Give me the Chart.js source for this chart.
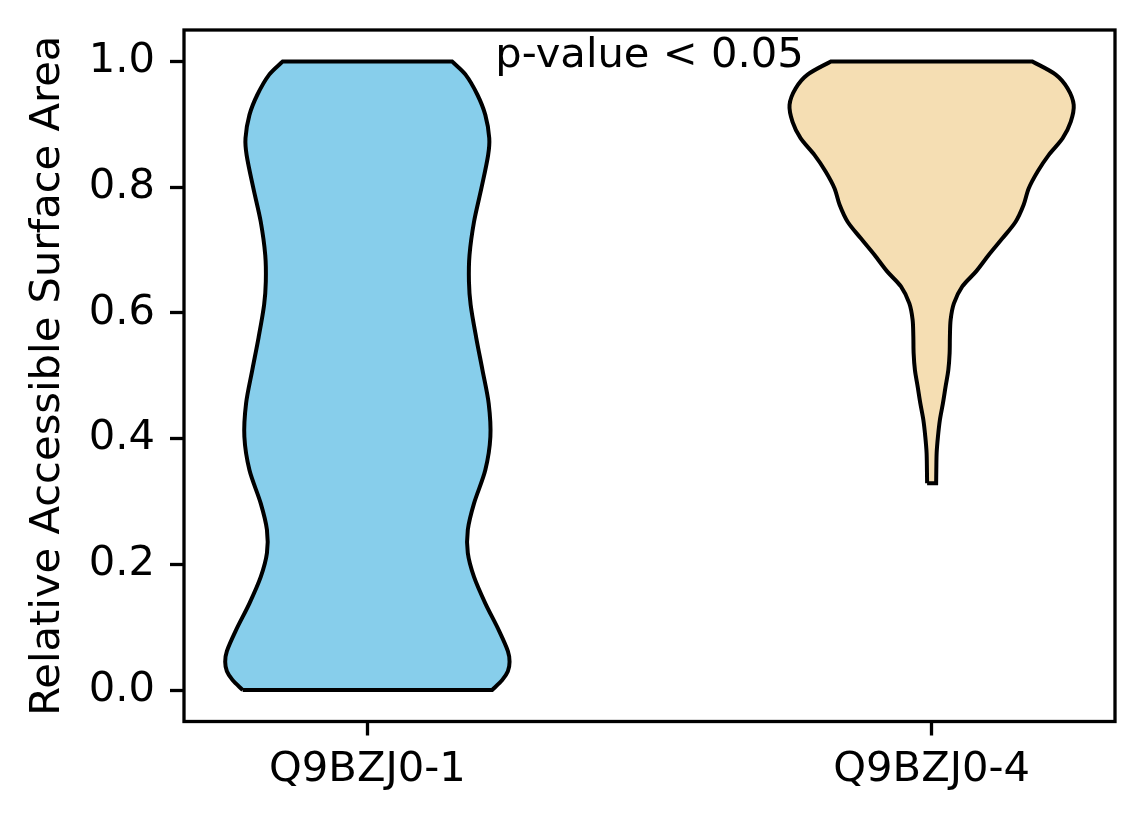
<!DOCTYPE html>
<html><head><meta charset="utf-8">
<script src="https://cdn.jsdelivr.net/npm/chart.js@4.4.1/dist/chart.umd.min.js"></script>
<style>html,body{margin:0;padding:0;background:#fff;} #wrap{width:1144px;height:824px;}</style>
</head><body><div id="wrap"><canvas id="c" width="1144" height="824"></canvas></div>
<script>
// ---- data ----
const categories = ['Q9BZJ0-1', 'Q9BZJ0-4'];
const positions = [1, 2];
const yTicks = [0.0, 0.2, 0.4, 0.6, 0.8, 1.0];
const medians = [0.4555, 0.880];
const colors = ['#87CEEB', '#F5DEB3'];

// violin 1 (Q9BZJ0-1): value levels and half-widths (x-axis units)
const violin1Levels = [0.000, 0.016, 0.030, 0.045, 0.062, 0.095, 0.138, 0.180, 0.218, 0.255, 0.297, 0.350, 0.403, 0.456, 0.509, 0.560, 0.613, 0.650, 0.692, 0.745, 0.798, 0.851, 0.878, 0.915, 0.947, 0.979, 1.000];
const violin1Half   = [0.221, 0.239, 0.249, 0.252, 0.249, 0.233, 0.209, 0.189, 0.178, 0.178, 0.189, 0.209, 0.218, 0.215, 0.204, 0.193, 0.183, 0.180, 0.181, 0.189, 0.202, 0.214, 0.216, 0.209, 0.195, 0.174, 0.150];

// violin 2 (Q9BZJ0-4)
const violin2Levels = [0.329, 0.350, 0.377, 0.403, 0.430, 0.456, 0.483, 0.509, 0.536, 0.562, 0.589, 0.615, 0.642, 0.666, 0.692, 0.719, 0.745, 0.772, 0.798, 0.825, 0.851, 0.878, 0.904, 0.931, 0.957, 0.979, 1.000];
const violin2Half   = [0.0080, 0.0083, 0.0089, 0.0112, 0.0147, 0.0200, 0.0248, 0.0296, 0.0319, 0.0324, 0.0337, 0.0395, 0.0544, 0.0789, 0.1011, 0.1259, 0.1489, 0.1631, 0.1720, 0.1879, 0.2074, 0.2323, 0.2465, 0.2518, 0.2411, 0.2199, 0.1785];

const medianHalfWidth = 0.125;
const annotText = 'p-value < 0.05';
const annotX = 1.5;
const annotY = 1.0;
const yTitle = 'Relative Accessible Surface Area';
const xMin = 0.675, xMax = 2.325, yMin = -0.05, yMax = 1.05;

// ---- build polygon outline (closed, with doubled corners for flat ends) ----
function violinPoints(c, levels, half) {
  const n = levels.length;
  const pts = [];
  pts.push({x: c - half[0], y: levels[0]});
  pts.push({x: c + half[0], y: levels[0]});
  for (let i = 0; i < n; i++) pts.push({x: c + half[i], y: levels[i]});
  pts.push({x: c + half[n-1], y: levels[n-1]});
  pts.push({x: c - half[n-1], y: levels[n-1]});
  for (let i = n - 1; i >= 0; i--) pts.push({x: c - half[i], y: levels[i]});
  return pts;
}

const FONT = 'DejaVu Sans';
const FS = 41.67;

const violinSets = [
  [violin1Levels, violin1Half],
  [violin2Levels, violin2Half]
].map((v, i) => ({
  data: violinPoints(positions[i], v[0], v[1]),
  showLine: true, fill: 'shape', tension: 0.3,
  backgroundColor: colors[i], borderColor: '#000', borderWidth: 4,
  pointRadius: 0, pointHoverRadius: 0, borderJoinStyle: 'miter'
}));

const medianSets = medians.map((m, i) => ({
  data: [{x: positions[i] - medianHalfWidth, y: m}, {x: positions[i] + medianHalfWidth, y: m}],
  showLine: true, fill: false, tension: 0,
  borderColor: '#000', borderWidth: 6, pointRadius: 0, pointHoverRadius: 0,
  borderCapStyle: 'butt'
}));

const framePlugin = {
  id: 'frame',
  afterDraw(chart) {
    const {ctx, chartArea: a} = chart;
    ctx.save();
    ctx.strokeStyle = '#000';
    ctx.lineWidth = 3.3;
    ctx.strokeRect(a.left, a.top, a.right - a.left, a.bottom - a.top);
    ctx.restore();
  }
};

const annotPlugin = {
  id: 'annot',
  afterDatasetsDraw(chart) {
    const {ctx, scales} = chart;
    ctx.save();
    ctx.font = FS + 'px "' + FONT + '"';
    ctx.fillStyle = '#000';
    ctx.textAlign = 'center';
    ctx.textBaseline = 'alphabetic';
    ctx.fillText(annotText, scales.x.getPixelForValue(annotX), scales.y.getPixelForValue(annotY) + 6);
    ctx.restore();
  }
};

function noPad(scale) {
  scale.paddingTop = 0; scale.paddingBottom = 0;
  scale.paddingLeft = 0; scale.paddingRight = 0;
}

new Chart(document.getElementById('c'), {
  type: 'scatter',
  data: { datasets: [...violinSets, ...medianSets] },
  options: {
    responsive: false,
    devicePixelRatio: 1,
    animation: false,
    events: [],
    layout: { padding: { top: 30, right: 29, left: 0, bottom: 0 } },
    plugins: { legend: { display: false }, tooltip: { enabled: false } },
    scales: {
      x: {
        type: 'linear', min: xMin, max: xMax,
        afterBuildTicks(scale) { scale.ticks = positions.map(v => ({value: v})); },
        afterFit(scale) { scale.height = 102.5; noPad(scale); },
        ticks: {
          autoSkip: false, maxRotation: 0, minRotation: 0,
          color: '#000', padding: 10,
          font: { family: FONT, size: FS },
          callback(v) { const i = positions.indexOf(v); return i >= 0 ? categories[i] : ''; }
        },
        grid: { drawOnChartArea: false, drawTicks: true, tickLength: 14, tickWidth: 3.3, tickColor: '#000', color: '#000' },
        border: { display: false }
      },
      y: {
        type: 'linear', min: yMin, max: yMax,
        afterBuildTicks(scale) { scale.ticks = yTicks.map(v => ({value: v})); },
        afterFit(scale) { scale.width = 184; noPad(scale); },
        ticks: {
          color: '#000', padding: 15,
          font: { family: FONT, size: FS },
          callback(v) { return Number(v).toFixed(1); }
        },
        grid: { drawOnChartArea: false, drawTicks: true, tickLength: 14, tickWidth: 3.3, tickColor: '#000', color: '#000' },
        border: { display: false },
        title: {
          display: true, text: yTitle, color: '#000',
          font: { family: FONT, size: FS },
          padding: { top: 23, bottom: 0 }
        }
      }
    }
  },
  plugins: [framePlugin, annotPlugin]
});
</script>
</body></html>
